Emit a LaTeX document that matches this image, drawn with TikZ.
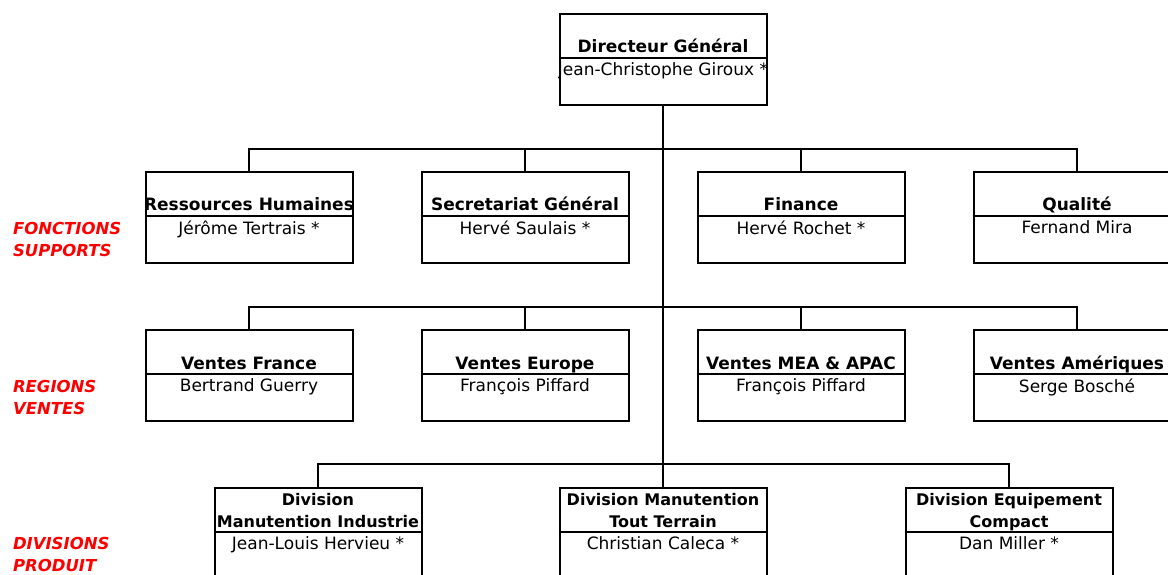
\documentclass[tikz,border=0pt]{standalone}
\usepackage{fontspec}
\setmainfont{DejaVu Sans}
\newcommand\orgunit[6][]{%
  \node[box] (#2) at (#3,#4) {};
  \coordinate (#2d) at ([yshift=-45pt]#2.north);
  \draw (#2.west |- #2d) -- (#2.east |- #2d);
  \begin{scope}
    \clip (#2.north west) rectangle (#2.south east);
    \node[ttl,#1] (#2t) at ([yshift=4pt]#2d) {#5};
    \node[who] (#2p) at ([yshift=-4pt]#2d) {#6};
  \end{scope}}
\begin{document}
\begin{tikzpicture}[x=1pt,y=-1pt,line width=2pt,
  box/.style={draw,minimum width=207pt,minimum height=91pt,anchor=north,inner sep=0pt},
  ttl/.style={font=\bfseries\fontsize{17}{22}\selectfont,anchor=south,align=center,inner sep=0pt,text depth=0pt},
  ttlsmall/.style={font=\bfseries\fontsize{16}{22}\selectfont},
  who/.style={font=\fontsize{17}{18}\selectfont,anchor=north,inner sep=0pt},
  lbl/.style={font=\bfseries\itshape\fontsize{16.5}{22}\selectfont,text=red,anchor=north west,align=left,inner sep=0pt}]
\useasboundingbox (0,0) rectangle (1168,575);
\clip (0,0) rectangle (1168,575);
% top
\orgunit{dg}{663}{13}{Directeur Général}{Jean-Christophe Giroux *}
% row 1
\orgunit{rh}{249}{171}{Ressources Humaines}{Jérôme Tertrais *}
\orgunit{se}{525}{171}{Secretariat Général}{Hervé Saulais *}
\orgunit{fi}{801}{171}{Finance}{Hervé Rochet *}
\orgunit{qu}{1077}{171}{Qualité}{Fernand Mira}
% row 2
\orgunit{vf}{249}{329}{Ventes France}{Bertrand Guerry}
\orgunit{ve}{525}{329}{Ventes Europe}{François Piffard}
\orgunit{vm}{801}{329}{Ventes MEA \& APAC}{François Piffard}
\orgunit{va}{1077}{329}{Ventes Amériques}{Serge Bosché}
% row 3
\orgunit[ttlsmall]{da}{318}{487}{Division\\Manutention Industrie}{Jean-Louis Hervieu *}
\orgunit[ttlsmall]{db}{663}{487}{Division Manutention\\Tout Terrain}{Christian Caleca *}
\orgunit[ttlsmall]{dc}{1009}{487}{Division Equipement\\Compact}{Dan Miller *}
% connectors
\coordinate (b1) at (663,149);
\coordinate (b2) at (663,307);
\coordinate (b3) at (663,464);
\draw (dg.south) -- (db.north);
\draw (rh.north) |- (b1) -| (qu.north);
\draw (se.north) -- (se.north |- b1);
\draw (fi.north) -- (fi.north |- b1);
\draw (vf.north) |- (b2) -| (va.north);
\draw (ve.north) -- (ve.north |- b2);
\draw (vm.north) -- (vm.north |- b2);
\draw (da.north) |- (b3) -| (dc.north);
% row labels
\node[lbl] (l1) at (12,221) {FONCTIONS\\SUPPORTS};
\node[lbl] (l2) at (12,379) {REGIONS\\VENTES};
\node[lbl] (l3) at (12,536) {DIVISIONS\\PRODUIT};
\end{tikzpicture}
\end{document}
